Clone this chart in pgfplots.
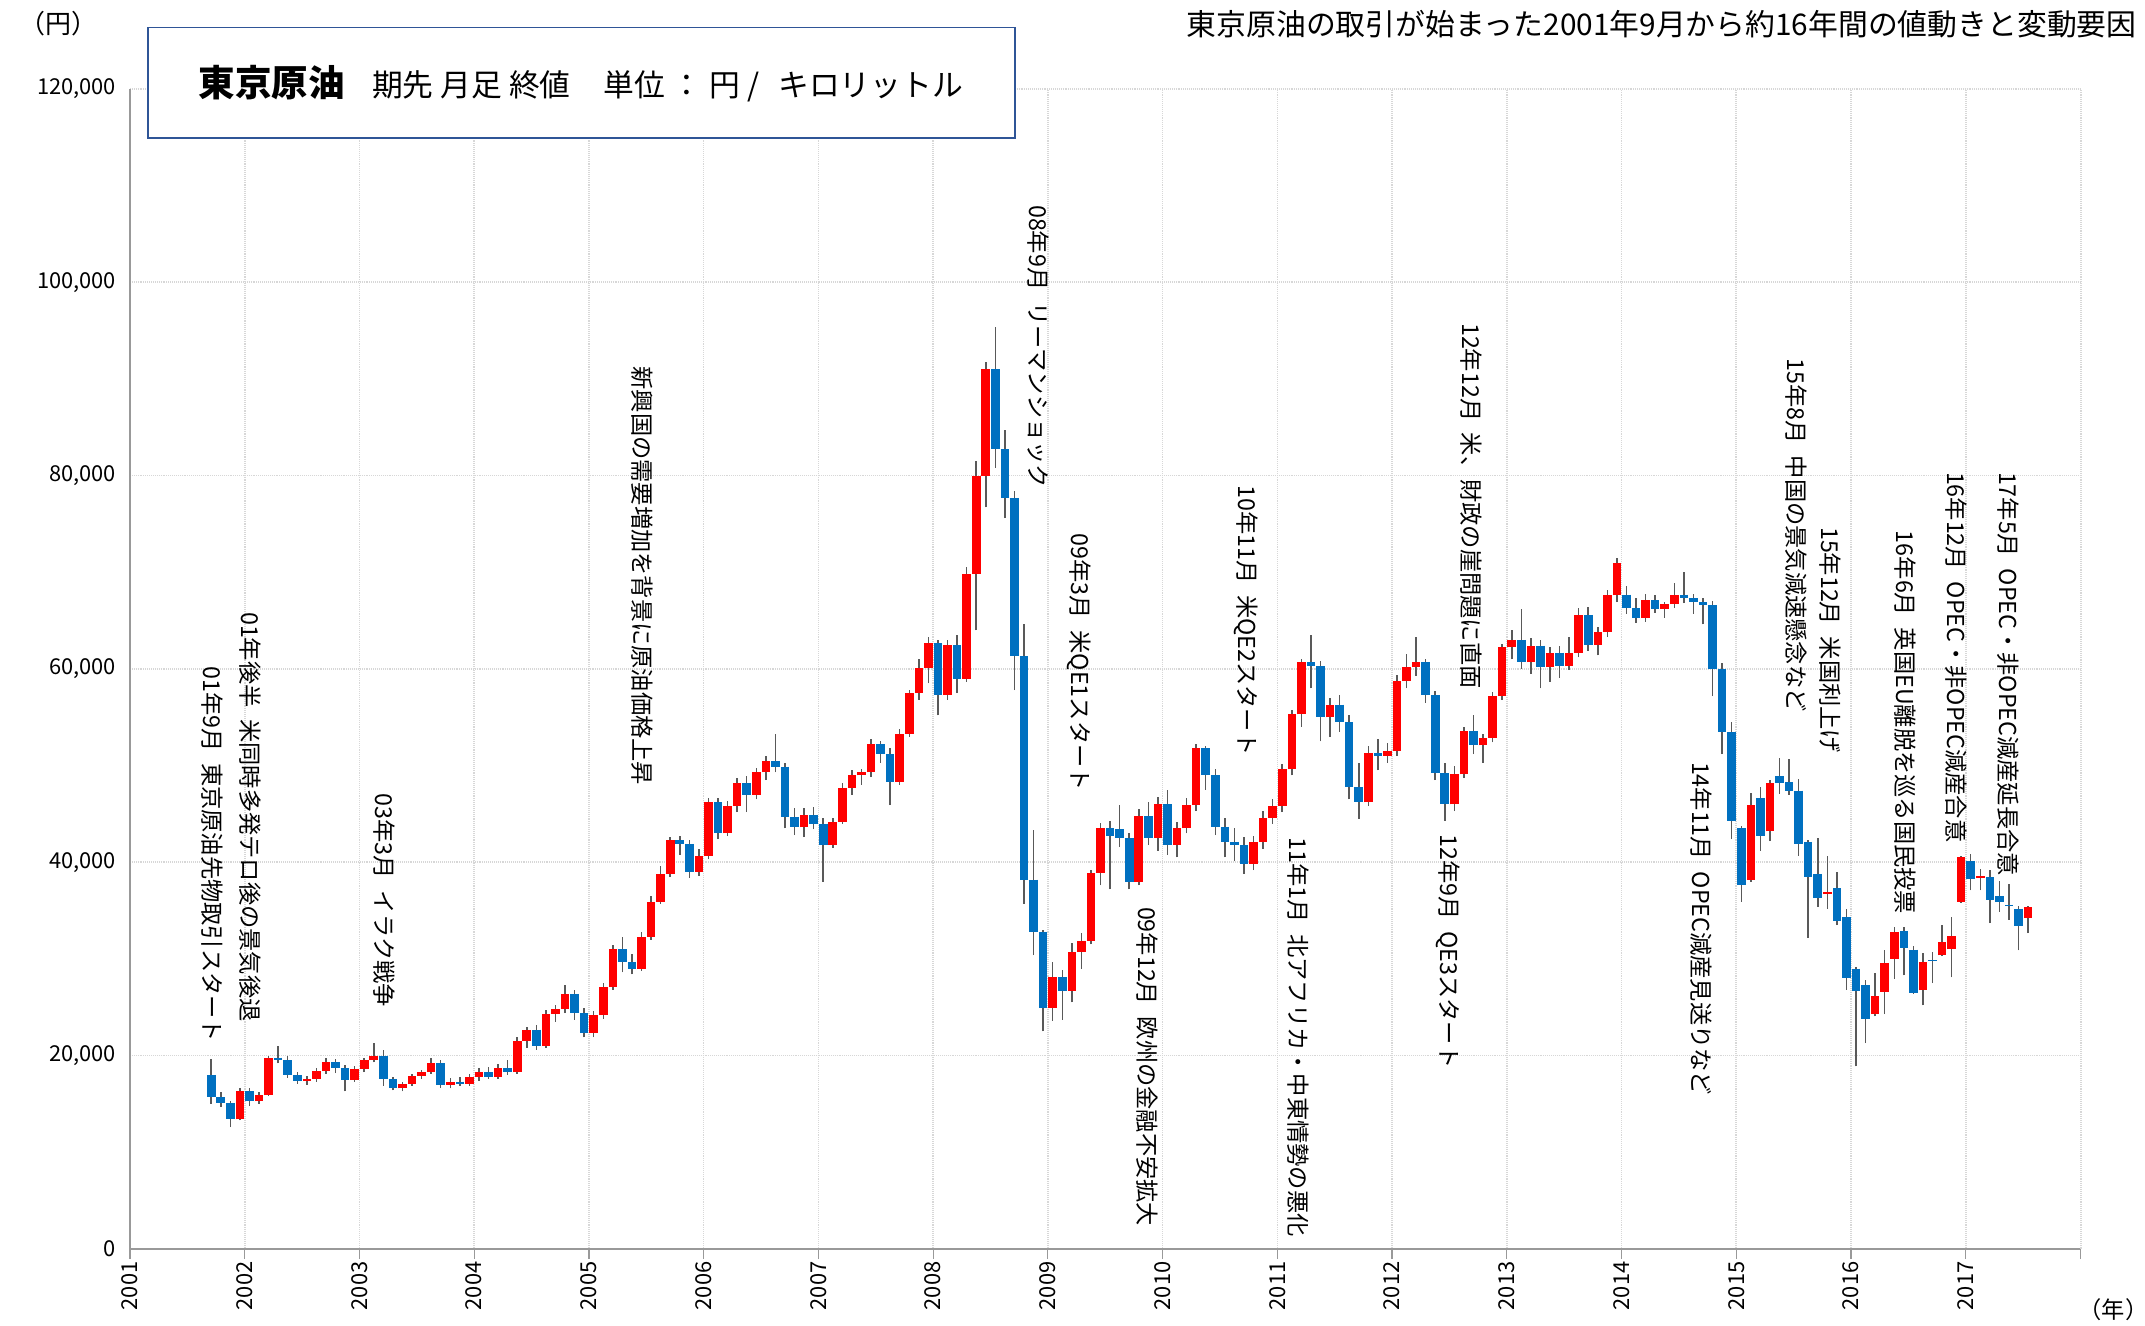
\documentclass[border=0pt]{standalone}
\usepackage{pgfplots}
\pgfplotsset{compat=1.18}
\usepackage{pgfplotstable}
\usepackage{fontspec}
\setmainfont{Noto Sans CJK JP}

\definecolor{upred}{RGB}{255,0,0}
\definecolor{dnblue}{RGB}{0,112,192}
\definecolor{wick}{RGB}{89,89,89}
\definecolor{boxblue}{RGB}{47,85,151}
\definecolor{gridgray}{RGB}{215,215,215}

% monthly candles: open high low close
\pgfplotstableread{
yr mo o h l c
2001 9 18000 19600 15000 15700
2001 10 15700 16200 14700 15100
2001 11 15100 15300 12600 13400
2001 12 13400 16700 13300 16300
2002 1 16300 16700 14800 15300
2002 2 15300 16200 15000 15900
2002 3 15900 20000 15800 19800
2002 4 19800 21000 19200 19500
2002 5 19500 20000 17700 18000
2002 6 18000 18300 17100 17400
2002 7 17400 17900 17000 17600
2002 8 17600 18700 17300 18400
2002 9 18400 19800 18100 19300
2002 10 19300 19700 18200 18700
2002 11 18700 19000 16300 17500
2002 12 17500 18900 17300 18600
2003 1 18600 19800 18300 19500
2003 2 19500 21300 19300 20000
2003 3 20000 20600 16900 17600
2003 4 17600 17800 16400 16600
2003 5 16600 17300 16300 17100
2003 6 17100 18100 16900 17900
2003 7 17900 18500 17600 18300
2003 8 18300 19800 18100 19200
2003 9 19200 19500 16700 17000
2003 10 17000 17700 16600 17300
2003 11 17300 17800 16900 17100
2003 12 17100 18100 16900 17800
2004 1 17800 18700 17400 18300
2004 2 18300 18800 17600 17800
2004 3 17800 19100 17600 18700
2004 4 18700 19500 18000 18300
2004 5 18300 21900 18100 21500
2004 6 21500 23000 20800 22700
2004 7 22700 23200 20600 21000
2004 8 21000 24700 20800 24300
2004 9 24300 25200 23500 24800
2004 10 24800 27300 24400 26400
2004 11 26400 26800 23700 24400
2004 12 24400 24900 21900 22300
2005 1 22300 24600 21900 24200
2005 2 24200 27500 23800 27100
2005 3 27100 31400 26800 31000
2005 4 31000 32300 28600 29700
2005 5 29700 30500 28400 29000
2005 6 29000 32800 28800 32300
2005 7 32300 36500 32000 35900
2005 8 35900 39600 35700 38800
2005 9 38800 42600 38500 42300
2005 10 42300 42700 40800 41900
2005 11 41900 42300 38400 39000
2005 12 39000 41400 38600 40600
2006 1 40600 46700 40300 46200
2006 2 46200 46600 42400 43000
2006 3 43000 46300 42700 45800
2006 4 45800 48700 45200 48200
2006 5 48200 48900 45200 47000
2006 6 47000 49800 46500 49300
2006 7 49300 51000 48500 50500
2006 8 50500 53300 49300 49900
2006 9 49900 50300 43500 44700
2006 10 44700 45600 42800 43600
2006 11 43600 45600 42600 44900
2006 12 44900 45700 43400 44000
2007 1 44000 44600 38000 41800
2007 2 41800 44600 41500 44200
2007 3 44200 48200 44000 47700
2007 4 47700 49500 47000 49000
2007 5 49000 49700 48000 49300
2007 6 49300 52800 48800 52200
2007 7 52200 52500 50300 51200
2007 8 51200 51800 45900 48300
2007 9 48300 53800 48000 53300
2007 10 53300 57800 53000 57500
2007 11 57500 61000 56800 60100
2007 12 60100 63300 58500 62700
2008 1 62700 63000 55200 57300
2008 2 57300 63000 56800 62500
2008 3 62500 63500 57500 59000
2008 4 59000 70500 58700 69800
2008 5 69800 81500 64000 80000
2008 6 80000 91800 76700 91000
2008 7 91000 95400 80800 82700
2008 8 82700 84700 75600 77700
2008 9 77700 78400 57800 61300
2008 10 61300 64600 35700 38200
2008 11 38200 43300 30400 32800
2008 12 32800 33000 22500 24900
2009 1 24900 29700 23600 28100
2009 2 28100 28900 23700 26700
2009 3 26700 31600 25500 30700
2009 4 30700 32700 29000 31900
2009 5 31900 39200 31500 38900
2009 6 38900 44100 37600 43500
2009 7 43500 44300 37200 42700
2009 8 43400 45900 41600 42500
2009 9 42500 43000 37200 38000
2009 10 38000 45500 37600 44800
2009 11 44800 46200 41800 42500
2009 12 42500 46800 41200 46000
2010 1 46000 47500 40800 41800
2010 2 41800 44200 40500 43500
2010 3 43500 46600 43000 45900
2010 4 45900 52200 45300 51800
2010 5 51800 52000 47500 49000
2010 6 49000 49700 42800 43700
2010 7 43700 44600 40500 42100
2010 8 42100 43500 40100 41800
2010 9 41800 42600 38800 39800
2010 10 39800 42700 39200 42100
2010 11 42100 45300 41400 44600
2010 12 44600 46500 44000 45800
2011 1 45800 50200 45200 49600
2011 2 49600 55800 49000 55300
2011 3 55300 61000 54000 60700
2011 4 60700 63500 58000 60300
2011 5 60300 60800 52500 55000
2011 6 55000 57000 53000 56300
2011 7 56300 57300 53500 54500
2011 8 54500 55200 46500 47800
2011 9 47800 50300 44500 46200
2011 10 46200 52000 45800 51300
2011 11 51300 52800 49500 51000
2011 12 51000 52300 50300 51500
2012 1 51500 59400 51000 58800
2012 2 58800 61500 58000 60200
2012 3 60200 63300 59300 60700
2012 4 60700 61000 56500 57300
2012 5 57300 57700 48500 49200
2012 6 49200 50300 44300 46000
2012 7 46000 50000 45300 49100
2012 8 49100 54000 48700 53600
2012 9 53600 55200 51200 52100
2012 10 52100 53300 50300 52900
2012 11 52900 57600 52400 57200
2012 12 57200 62600 56800 62300
2013 1 62300 64000 61000 63000
2013 2 63000 66200 60000 60700
2013 3 60700 63200 59500 62400
2013 4 62400 63000 58000 60200
2013 5 60200 62300 58700 61700
2013 6 61700 62400 59100 60300
2013 7 60300 63300 59900 61700
2013 8 61700 66300 61200 65600
2013 9 65600 66400 61900 62500
2013 10 62500 64300 61400 63800
2013 11 63800 68200 63300 67600
2013 12 67600 71500 66900 71000
2014 1 67700 68600 65700 66300
2014 2 66300 67300 64800 65300
2014 3 65300 67800 64900 67100
2014 4 67100 67600 65800 66200
2014 5 66200 66900 65300 66700
2014 6 66700 68900 66300 67700
2014 7 67700 70000 66800 67300
2014 8 67300 67800 65700 66900
2014 9 66900 67300 64600 66600
2014 10 66600 67000 57200 60000
2014 11 60000 60600 51200 53500
2014 12 53500 54500 42400 44300
2015 1 43500 43800 35900 37700
2015 2 38200 47200 38000 45900
2015 3 46650 47800 41200 42700
2015 4 43200 48500 42200 48200
2015 5 48900 50800 47100 48200
2015 6 48300 50700 47000 47400
2015 7 47400 48600 40700 41900
2015 8 42100 42300 32200 38500
2015 9 38800 42500 35400 36300
2015 10 36750 40700 35200 36900
2015 11 37300 39000 33500 33900
2015 12 34300 35200 26800 28000
2016 1 29000 29200 18900 26700
2016 2 27300 27850 21300 23800
2016 3 24300 28500 24050 26200
2016 4 26600 30900 24300 29600
2016 5 30000 33300 27950 32800
2016 6 32900 33300 28300 31100
2016 7 30960 31300 26400 26470
2016 8 26750 30600 25200 29680
2016 9 29850 30700 27500 29750
2016 10 30370 33500 30300 31750
2016 11 31000 34300 28100 32400
2016 12 35900 40600 35800 40500
2017 1 40130 40900 37100 38270
2017 2 38400 39300 37100 38550
2017 3 38470 39200 33700 36130
2017 4 36470 38100 34900 35890
2017 5 35600 37800 34060 35480
2017 6 35200 35500 30900 33370
2017 7 34270 35440 32680 35370
}\crude

\newcommand{\gap}{\hspace{0.5em}}
\newcommand{\ann}[3]{\node[rotate=-90,anchor=west,inner sep=0pt,
  font=\fontsize{17}{17}\selectfont] at (axis cs:#1,#2) {#3};}

\begin{document}
\begin{tikzpicture}[x=1pt,y=1pt]
\useasboundingbox (-95,-56) rectangle (1473,913);
\begin{axis}[
  scale only axis,
  width=1426pt, height=848pt,
  xmin=2001, xmax=2018, ymin=0, ymax=120000,
  axis x line*=bottom, axis y line*=left,
  axis line style={-, draw=gray!80, line width=0.9pt},
  xtick={2001,...,2017},
  extra x ticks={2018}, extra x tick labels={},
  ytick={0,20000,...,120000},
  scaled y ticks=false,
  grid=major,
  major grid style={gridgray, densely dotted, line width=1.2pt},
  tick align=outside,
  xtick style={draw=gray!80, line width=0.9pt},
  ytick style={draw=none},
  major tick length=7pt,
  xticklabel={\pgfmathprintnumber[fixed,1000 sep={},assume math mode=true]{\tick}},
  yticklabel={\pgfmathprintnumber[fixed,1000 sep={,},assume math mode=true]{\tick}},
  x tick label style={rotate=90, anchor=east, inner sep=2pt,
    font=\fontsize{16}{16}\selectfont},
  y tick label style={inner sep=2pt, xshift=-1pt,
    font=\fontsize{16}{16}\selectfont},
  colormap={updown}{color=(dnblue) color=(upred)},
  point meta min=0, point meta max=1,
  clip=false,
]
% wicks
\addplot[draw=wick, line width=1.1pt,
  quiver={u=0, v=\thisrow{h}-\thisrow{l}}]
  table[x expr=\thisrow{yr}+(\thisrow{mo}-0.5)/12, y=l] {\crude};
% bodies, red = up, blue = down
\addplot[line width=6.3pt,
  point meta={\thisrow{c}>\thisrow{o}},
  quiver={u=0, v=\thisrow{c}-\thisrow{o},
    every arrow/.append style={draw=mapped color}}]
  table[x expr=\thisrow{yr}+(\thisrow{mo}-0.5)/12, y=o] {\crude};

\ann{2001.714}{60300}{01年9月\gap 東京原油先物取引スタート}
\ann{2002.048}{65900}{01年後半\gap 米同時多発テロ後の景気後退}
\ann{2003.214}{47100}{03年3月\gap イラク戦争}
\ann{2005.464}{91300}{新興国の需要増加を背景に原油価格上昇}
\ann{2008.917}{108000}{08年9月\gap リーマンショック}
\ann{2009.274}{74000}{09年3月\gap 米QE1スタート}
\ann{2009.869}{35400}{09年12月\gap 欧州の金融不安拡大}
\ann{2010.726}{79000}{10年11月\gap 米QE2スタート}
\ann{2011.179}{42600}{11年1月\gap 北アフリカ・中東情勢の悪化}
\ann{2012.690}{95800}{12年12月\gap 米、財政の崖問題に直面}
\ann{2012.488}{42900}{12年9月\gap QE3スタート}
\ann{2014.690}{50400}{14年11月\gap OPEC減産見送りなど}
\ann{2015.524}{92100}{15年8月\gap 中国の景気減速懸念など}
\ann{2015.821}{74700}{15年12月\gap 米国利上げ}
\ann{2016.476}{74300}{16年6月\gap 英国EU離脱を巡る国民投票}
\ann{2016.917}{80400}{16年12月\gap OPEC・非OPEC減産合意}
\ann{2017.369}{80400}{17年5月\gap OPEC・非OPEC減産延長合意}
\end{axis}

% title box and side texts
\draw[boxblue, line width=1.2pt, fill=white] (13,812) rectangle (647,893);
\node[anchor=west, inner sep=0pt] at (50,852)
  {{\fontsize{26.7}{26.7}\selectfont\bfseries 東京原油}\hspace{20pt}%
   {\fontsize{22.5}{22.5}\selectfont 期先 月足 終値\hspace{24pt}単位 ： 円 /\hspace{14pt}キロリットル}};
\node[anchor=east, inner sep=0pt, font=\fontsize{21.8}{21.8}\selectfont]
  at (1467,895) {東京原油の取引が始まった2001年9月から約16年間の値動きと変動要因};
\node[inner sep=0pt, font=\fontsize{19}{19}\selectfont] at (-52,896) {（円）};
\node[inner sep=0pt, font=\fontsize{17}{17}\selectfont] at (1450,-44) {（年）};
\end{tikzpicture}
\end{document}
